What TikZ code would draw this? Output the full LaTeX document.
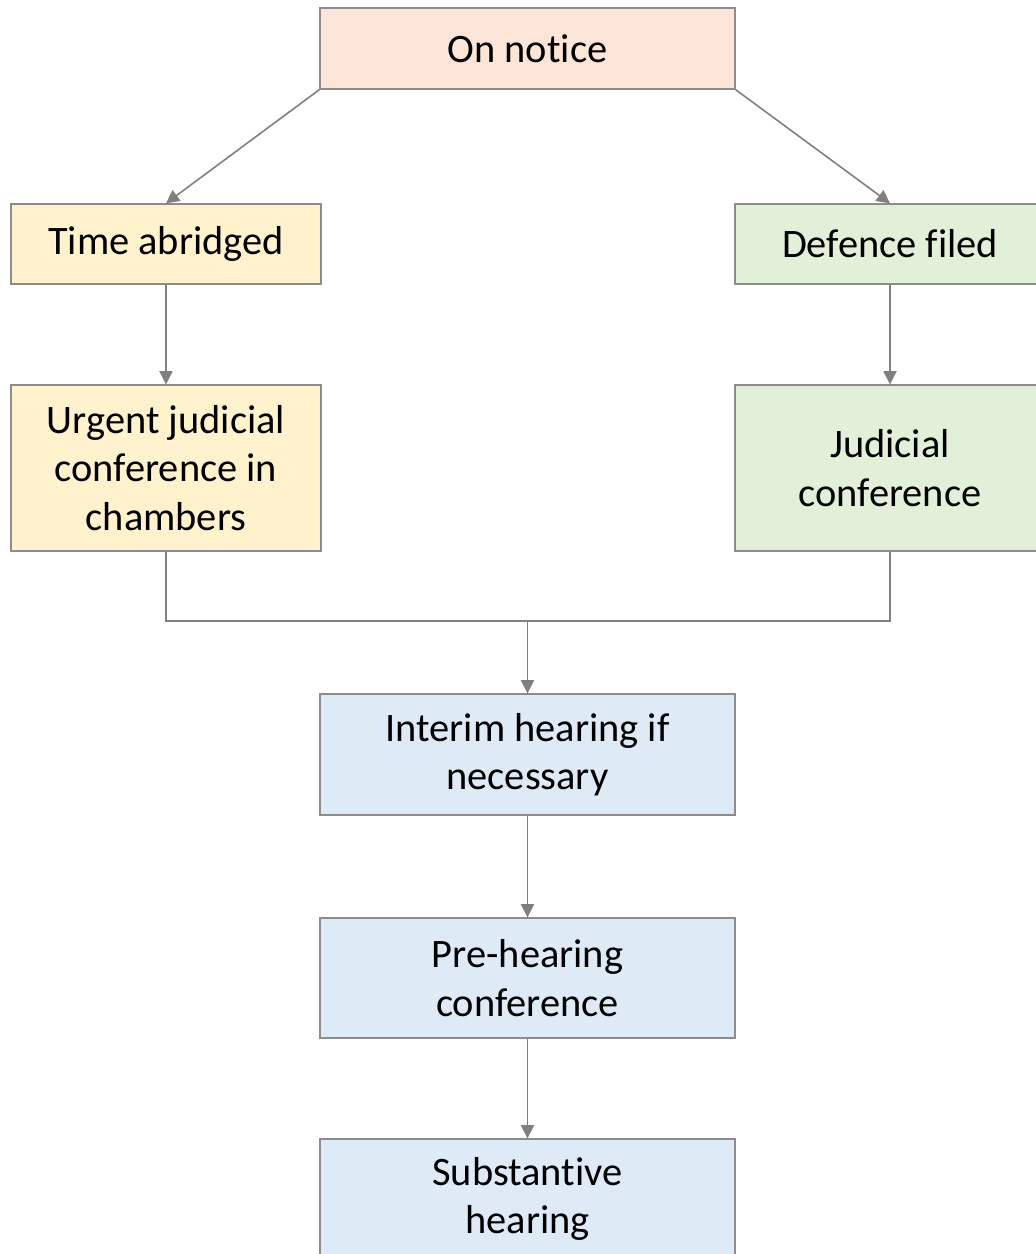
\documentclass[tikz,border=0pt]{standalone}
\usepackage{fontspec}
\setmainfont[Ligatures=NoCommon]{Carlito}
\usetikzlibrary{arrows.meta}
\definecolor{peach}{HTML}{FBE5D6}
\definecolor{paleyellow}{HTML}{FFF2CC}
\definecolor{palegreen}{HTML}{E2F0D9}
\definecolor{paleblue}{HTML}{DEEBF7}
\definecolor{edgegray}{HTML}{8C8C8C}
\definecolor{wiregray}{HTML}{7F7F7F}
\tikzset{
  box/.style={draw=edgegray, line width=0.8pt, align=center, inner sep=0pt,
    font=\fontsize{23}{27.5}\selectfont},
  wire/.style={draw=wiregray, line width=0.9pt},
  link/.style={wire, -{Triangle[length=7.5pt,width=7.5pt]}}
}
\begin{document}
\begin{tikzpicture}[x=0.02cm,y=-0.02cm]
            \useasboundingbox (0,0) rectangle (1035,1254);
            \fill[white] (0,0) rectangle (1035,1254);
            % top
            \node[box,fill=peach,minimum width=8.3cm,minimum height=1.62cm] (notice) at (527.5,48.5) {On notice};
            % left branch
            \node[box,fill=paleyellow,minimum width=6.2cm,minimum height=1.6cm] (abridged) at (166,244) {Time abridged};
            \node[box,fill=paleyellow,minimum width=6.2cm,minimum height=3.32cm] (urgent) at (166,468) {Urgent judicial\\conference in\\chambers};
            % right branch
            \node[box,fill=palegreen,minimum width=6.2cm,minimum height=1.6cm] (defence) at (890,244) {Defence filed};
            \node[box,fill=palegreen,minimum width=6.2cm,minimum height=3.32cm] (judicial) at (890,468) {Judicial\\conference};
            % lower chain
            \node[box,fill=paleblue,minimum width=8.3cm,minimum height=2.42cm] (interim) at (527.5,754.5) {Interim hearing if\\necessary};
            \node[box,fill=paleblue,minimum width=8.3cm,minimum height=2.4cm] (prehearing) at (527.5,978) {Pre-hearing\\conference};
            \node[box,fill=paleblue,minimum width=8.3cm,minimum height=2.4cm] (substantive) at (527.5,1199) {Substantive\\hearing};
            \coordinate (join) at (527.5,621);
            % connectors
            \draw[link] (notice.south west) -- (abridged.north);
            \draw[link] (notice.south east) -- (defence.north);
            \draw[link] (abridged) -- (urgent);
            \draw[link] (defence) -- (judicial);
            \draw[wire] (urgent.south) |- (join) -| (judicial.south);
            \draw[link] (join) -- (interim.north);
            \draw[link] (interim) -- (prehearing);
            \draw[link] (prehearing) -- (substantive);
        \end{tikzpicture}
\end{document}
